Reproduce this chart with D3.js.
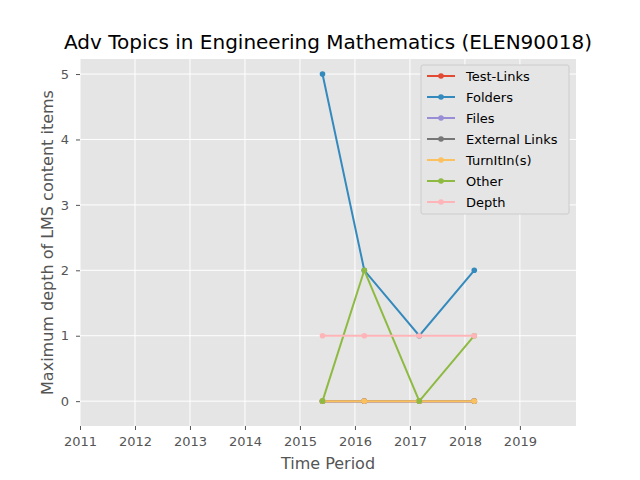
<!DOCTYPE html>
<html><head><script src="https://d3js.org/d3.v7.min.js"></script>
<style>body{margin:0;background:#fff}text{font-family:"DejaVu Sans",sans-serif}</style></head>
<body><svg id="c" width="640" height="480"></svg>
<script>
const periods=[2015.41,2016.17,2017.17,2018.17];
const seriesNames=["Test-Links","Folders","Files","External Links","TurnItIn(s)","Other","Depth"];
const testLinks=[0,0,0,0];
const folders=[5,2,1,2];
const files=[0,0,0,0];
const extLinks=[0,0,0,0];
const turnitin=[0,0,0,0];
const other=[0,2,0,1];
const depth=[1,1,1,1];
const xTicks=[2011,2012,2013,2014,2015,2016,2017,2018,2019];
const yTicks=[0,1,2,3,4,5];
const colors=["#E24A33","#348ABD","#988ED5","#777777","#FBC15E","#8EBA42","#FFB5B8"];
const data=[testLinks,folders,files,extLinks,turnitin,other,depth];
const svg=d3.select("#c");
const L=80,R=576,T=59,B=426;
const x=d3.scaleLinear().domain([2011,2020.02]).range([L,R]);
const y=d3.scaleLinear().domain([-0.38,5.23]).range([B,T]);
svg.append("rect").attr("x",L).attr("y",T).attr("width",R-L).attr("height",B-T).attr("fill","#E5E5E5");
const g=svg.append("g");
xTicks.forEach(t=>g.append("line").attr("x1",x(t)).attr("x2",x(t)).attr("y1",T).attr("y2",B).attr("stroke","#fff"));
yTicks.forEach(t=>g.append("line").attr("y1",y(t)).attr("y2",y(t)).attr("x1",L).attr("x2",R).attr("stroke","#fff"));
const xa=svg.append("g").attr("transform",`translate(0,${B})`).call(d3.axisBottom(x).tickValues(xTicks).tickFormat(d3.format("d")).tickSize(4).tickPadding(7));
const ya=svg.append("g").attr("transform",`translate(${L},0)`).call(d3.axisLeft(y).tickValues(yTicks).tickFormat(d3.format("d")).tickSize(4).tickPadding(7));
[xa,ya].forEach(a=>{a.select(".domain").remove();a.selectAll("line").attr("stroke","#555");a.selectAll("text").attr("fill","#555").style("font-size","13px");});
const line=d3.line().x((d,i)=>x(periods[i])).y(d=>y(d));
data.forEach((s,k)=>{
  svg.append("path").attr("d",line(s)).attr("fill","none").attr("stroke",colors[k]).attr("stroke-width",2);
  s.forEach((v,i)=>svg.append("circle").attr("cx",x(periods[i])).attr("cy",y(v)).attr("r",2.8).attr("fill",colors[k]));
});
svg.append("text").attr("x",(L+R)/2).attr("y",49).attr("text-anchor","middle").style("font-size","20px").text("Adv Topics in Engineering Mathematics (ELEN90018)");
svg.append("text").attr("x",(L+R)/2).attr("y",469).attr("text-anchor","middle").attr("fill","#555").style("font-size","16px").text("Time Period");
svg.append("text").attr("transform",`translate(53,${(T+B)/2}) rotate(-90)`).attr("text-anchor","middle").attr("fill","#555").style("font-size","16px").text("Maximum depth of LMS content items");
const lg=svg.append("g");
lg.append("rect").attr("x",421).attr("y",65).attr("width",148).attr("height",149).attr("fill","#E5E5E5").attr("stroke","#ccc").attr("rx",2);
seriesNames.forEach((n,i)=>{
  const yy=76+i*21;
  lg.append("line").attr("x1",427).attr("x2",455).attr("y1",yy).attr("y2",yy).attr("stroke",colors[i]).attr("stroke-width",2);
  lg.append("circle").attr("cx",441).attr("cy",yy).attr("r",2.8).attr("fill",colors[i]);
  lg.append("text").attr("x",466).attr("y",yy+5).style("font-size","13px").text(n);
});
</script></body></html>
